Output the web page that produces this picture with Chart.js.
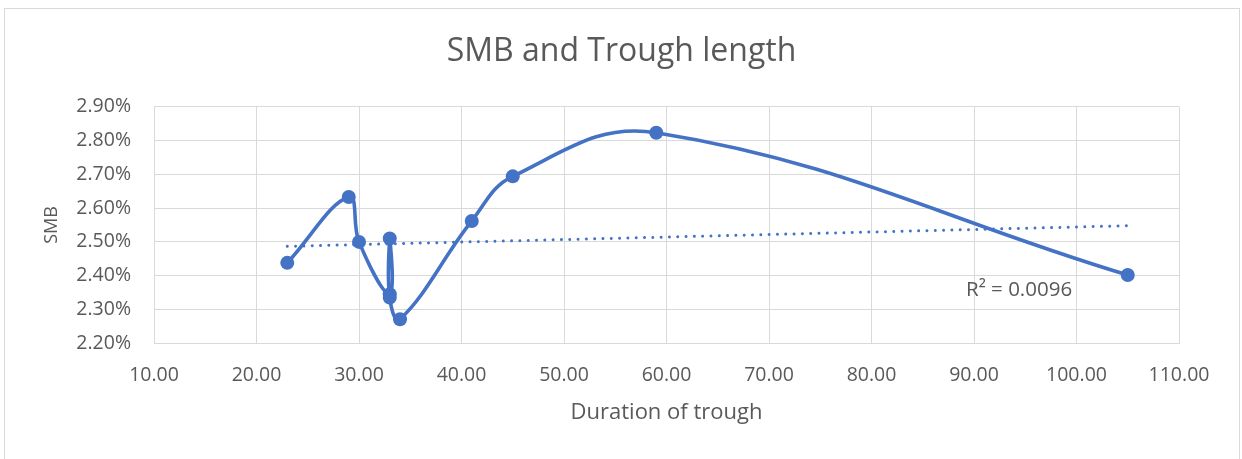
<!DOCTYPE html>
<html>
<head>
<meta charset="utf-8">
<script src="https://cdn.jsdelivr.net/npm/chart.js@4.4.1/dist/chart.umd.min.js"></script>
<style>
  html, body { margin: 0; padding: 0; background: #ffffff; }
  #wrap { width: 1242px; height: 459px; position: relative; }
</style>
</head>
<body>
<div id="wrap"><canvas id="c" width="1242" height="459"></canvas></div>
<script>
// ---- Data ----
const troughDuration = [23, 29, 30, 33, 33, 33, 34, 41, 45, 59, 105];
const smbPercent     = [2.438, 2.633, 2.500, 2.345, 2.510, 2.335, 2.271, 2.562, 2.694, 2.823, 2.402];
const xTickRange = { min: 10, max: 110, step: 10 };
const yTickRange = { min: 2.2, max: 2.9, step: 0.1 };
const chartTitle = 'SMB and Trough length';
const xAxisTitle = 'Duration of trough';
const yAxisTitle = 'SMB';
const rSquaredLabel = 'R² = 0.0096';

// ---- Linear trendline from the data (least squares) ----
function linearFit(xs, ys) {
  const n = xs.length;
  const mx = xs.reduce((a, b) => a + b, 0) / n;
  const my = ys.reduce((a, b) => a + b, 0) / n;
  let sxy = 0, sxx = 0;
  for (let i = 0; i < n; i++) { sxy += (xs[i] - mx) * (ys[i] - my); sxx += (xs[i] - mx) ** 2; }
  const slope = sxy / sxx;
  return { slope, intercept: my - slope * mx };
}
const fit = linearFit(troughDuration, smbPercent);
const xMinData = Math.min(...troughDuration), xMaxData = Math.max(...troughDuration);
const trendPoints = [xMinData, xMaxData].map(x => ({ x, y: fit.intercept + fit.slope * x }));
const seriesPoints = troughDuration.map((x, i) => ({ x, y: smbPercent[i] }));

const BLUE = '#4472C4';
const TEXT = '#595959';
const GRID = '#d9d9d9';
const FONT = "'Open Sans', 'DejaVu Sans', sans-serif";

const framePlugin = {
  id: 'frame',
  beforeDraw(chart) {
    const ctx = chart.ctx;
    ctx.save();
    ctx.fillStyle = '#ffffff';
    ctx.fillRect(0, 0, chart.width, chart.height);
    ctx.strokeStyle = GRID;
    ctx.lineWidth = 1;
    ctx.strokeRect(4.5, 8.5, 1235, 470);
    // chart title, centred on the whole chart
    ctx.fillStyle = TEXT;
    ctx.font = "32px " + FONT;
    ctx.textAlign = 'center';
    ctx.textBaseline = 'alphabetic';
    ctx.fillText(chartTitle, 621.5, 61);
    ctx.restore();
  },
  afterDraw(chart) {
    const ctx = chart.ctx;
    ctx.save();
    ctx.fillStyle = TEXT;
    ctx.font = "20.5px " + FONT;
    ctx.textAlign = 'left';
    ctx.textBaseline = 'middle';
    ctx.fillText(rSquaredLabel, 966, 290);
    ctx.restore();
  }
};

new Chart(document.getElementById('c'), {
  type: 'scatter',
  data: {
    datasets: [
      {
        label: 'SMB',
        data: seriesPoints,
        showLine: true,
        borderColor: BLUE,
        backgroundColor: BLUE,
        borderWidth: 3.6,
        tension: 0.4,
        pointRadius: 7,
        pointHoverRadius: 7,
        pointBorderWidth: 0,
        order: 2
      },
      {
        label: 'Linear (SMB)',
        data: trendPoints,
        showLine: true,
        borderColor: BLUE,
        borderWidth: 3,
        borderDash: [0.01, 8.3],
        borderCapStyle: 'round',
        pointRadius: 0,
        tension: 0,
        order: 1
      }
    ]
  },
  plugins: [framePlugin],
  options: {
    responsive: false,
    animation: false,
    devicePixelRatio: 1,
    layout: { padding: { left: 8, right: 63, top: 106.7, bottom: 0 } },
    plugins: {
      legend: { display: false },
      tooltip: { enabled: false },
      title: { display: false }
    },
    scales: {
      x: {
        type: 'linear',
        min: xTickRange.min,
        max: xTickRange.max,
        afterFit(scale) { scale.height = 115.7; },
        ticks: {
          stepSize: xTickRange.step,
          color: TEXT,
          font: { family: FONT, size: 19.5 },
          padding: 20,
          callback: v => Number(v).toFixed(2)
        },
        grid: { color: GRID, lineWidth: 1, drawTicks: false },
        border: { color: GRID },
        title: {
          display: true,
          text: xAxisTitle,
          color: TEXT,
          font: { family: FONT, size: 22 },
          padding: { top: 0, bottom: 33 }
        }
      },
      y: {
        type: 'linear',
        min: yTickRange.min,
        max: yTickRange.max,
        afterFit(scale) { scale.width = 146; },
        ticks: {
          stepSize: yTickRange.step,
          color: TEXT,
          font: { family: FONT, size: 19.5 },
          padding: 23,
          callback: v => Number(v).toFixed(2) + '%'
        },
        grid: { color: GRID, lineWidth: 1, drawTicks: false },
        border: { color: GRID },
        title: {
          display: true,
          text: yAxisTitle,
          color: TEXT,
          font: { family: FONT, size: 18 },
          padding: { top: 33, bottom: 0 }
        }
      }
    }
  }
});
</script>
</body>
</html>
